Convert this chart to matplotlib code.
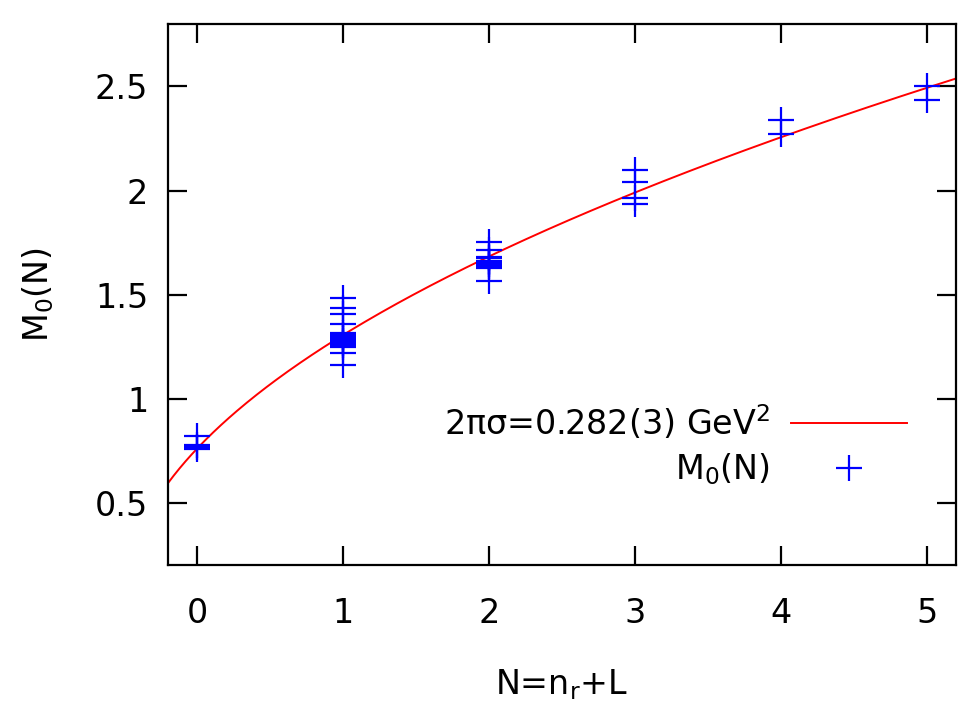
import matplotlib
matplotlib.use('Agg')
import matplotlib.pyplot as plt
import numpy as np

plt.rcParams['font.family'] = 'DejaVu Sans'
plt.rcParams['font.size'] = 24
plt.rcParams['mathtext.default'] = 'regular'

# lattice masses M0(N)
m0 = [0.819, 0.777, 0.769, 0.761]
n0 = [0] * len(m0)
m1 = [1.482, 1.434, 1.405, 1.357, 1.317, 1.307, 1.298, 1.288, 1.279, 1.269, 1.260, 1.250, 1.218, 1.160]
n1 = [1] * len(m1)
m2 = [1.751, 1.713, 1.683, 1.674, 1.664, 1.655, 1.645, 1.636, 1.627, 1.567]
n2 = [2] * len(m2)
m3 = [2.098, 2.040, 1.963, 1.934]
n3 = [3] * len(m3)
m4 = [2.338, 2.271]
n4 = [4] * len(m4)
m5 = [2.501, 2.434]
n5 = [5] * len(m5)

N_all = n0 + n1 + n2 + n3 + n4 + n5
M_all = m0 + m1 + m2 + m3 + m4 + m5

# string fit: M^2 = M0^2 + 4 * (2 pi sigma) * N
sigma2pi = 0.282
m0sq = 0.577

xticks = [0, 1, 2, 3, 4, 5]
yticks = [0.5, 1, 1.5, 2, 2.5]
yticklabels = ['0.5', '1', '1.5', '2', '2.5']

fig = plt.figure(figsize=(9.66, 7.10), dpi=100)
ax = fig.add_axes([0.1736, 0.2038, 0.8161, 0.7624])

nfit = np.linspace(-0.2, 5.2, 400)
ax.plot(nfit, np.sqrt(m0sq + 4 * sigma2pi * nfit), color='#ff0000', linewidth=1.4,
        label='2πσ=0.282(3) GeV$^2$')
ax.plot(N_all, M_all, linestyle='none', marker='+', markersize=19, markeredgewidth=1.6,
        color='#0000ff', label='M$_0$(N)')

ax.set_xlim(-0.2, 5.2)
ax.set_ylim(0.2, 2.8)
ax.set_xticks(xticks)
ax.set_yticks(yticks)
ax.set_yticklabels(yticklabels)
ax.tick_params(direction='in', length=13.5, width=1.6, top=True, right=True)
ax.tick_params(axis='x', pad=23)
ax.tick_params(axis='y', pad=14)
for s in ax.spines.values():
    s.set_linewidth(1.6)

ax.set_xlabel('N=n$_r$+L', labelpad=27)
ax.set_ylabel('M$_0$(N)', labelpad=28)

ax.legend(loc='center right', bbox_to_anchor=(0.938, 0.222), frameon=False,
          markerfirst=False, handlelength=3.5, handletextpad=0.6, labelspacing=0.3,
          borderpad=0, borderaxespad=0, numpoints=1)

fig.savefig('out.png', dpi=100)
